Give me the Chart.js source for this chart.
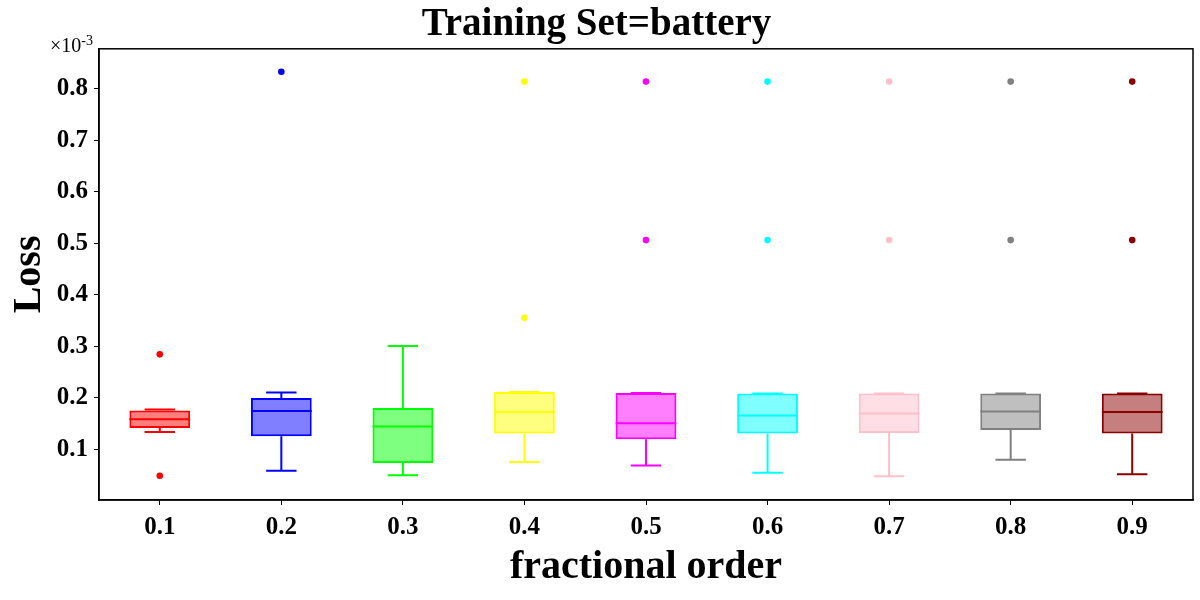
<!DOCTYPE html>
<html>
<head>
<meta charset="utf-8">
<script src="https://cdn.jsdelivr.net/npm/chart.js@4/dist/chart.umd.min.js"></script>
<style>
  body { margin: 0; background: #fff; }
  #wrap { width: 1200px; height: 600px; }
</style>
</head>
<body>
<div id="wrap"><canvas id="chart"></canvas></div>
<script>
// values in units of 1e-3
const categories = ["0.1", "0.2", "0.3", "0.4", "0.5", "0.6", "0.7", "0.8", "0.9"];
const q1 = [0.141, 0.125, 0.073, 0.130, 0.119, 0.130, 0.131, 0.137, 0.130];
const q3 = [0.175, 0.199, 0.180, 0.211, 0.209, 0.208, 0.208, 0.208, 0.208];
const medians = [0.158, 0.174, 0.144, 0.172, 0.150, 0.165, 0.169, 0.173, 0.172];
const whiskerLow = [0.133, 0.058, 0.049, 0.075, 0.068, 0.054, 0.047, 0.079, 0.051];
const whiskerHigh = [0.177, 0.210, 0.300, 0.211, 0.209, 0.208, 0.208, 0.208, 0.208];
const outlierCats = ["0.1", "0.1", "0.2", "0.4", "0.4", "0.5", "0.5", "0.6", "0.6", "0.7", "0.7", "0.8", "0.8", "0.9", "0.9"];
const outlierVals = [0.284, 0.048, 0.833, 0.355, 0.814, 0.506, 0.814, 0.506, 0.814, 0.506, 0.814, 0.506, 0.814, 0.506, 0.814];
const yTicks = [0.1, 0.2, 0.3, 0.4, 0.5, 0.6, 0.7, 0.8];

const colors = ["#ff0000", "#0000ff", "#00ff00", "#ffff00", "#ff00ff", "#00ffff", "#ffc0cb", "#808080", "#8b0000"];
const fills = ["rgba(255,0,0,0.5)", "rgba(0,0,255,0.5)", "rgba(0,255,0,0.5)", "rgba(255,255,0,0.5)",
  "rgba(255,0,255,0.5)", "rgba(0,255,255,0.5)", "rgba(255,192,203,0.5)", "rgba(128,128,128,0.5)", "rgba(139,0,0,0.5)"];

const serif = "'Liberation Serif', 'DejaVu Serif', serif";

// whiskers, caps and medians, placed with the chart's scales
const boxExtras = {
  id: "boxExtras",
  afterDatasetsDraw(chart) {
    const ctx = chart.ctx;
    const x = chart.scales.x;
    const y = chart.scales.y;
    const bars = chart.getDatasetMeta(0).data;
    ctx.save();
    ctx.lineWidth = 2;
    categories.forEach((c, i) => {
      const cx = x.getPixelForValue(i);
      const half = bars[i].width / 2;
      const cap = half / 2;
      ctx.strokeStyle = colors[i];
      ctx.beginPath();
      // median
      ctx.moveTo(cx - half, y.getPixelForValue(medians[i]));
      ctx.lineTo(cx + half, y.getPixelForValue(medians[i]));
      // whiskers
      ctx.moveTo(cx, y.getPixelForValue(q3[i]));
      ctx.lineTo(cx, y.getPixelForValue(whiskerHigh[i]));
      ctx.moveTo(cx, y.getPixelForValue(q1[i]));
      ctx.lineTo(cx, y.getPixelForValue(whiskerLow[i]));
      // caps
      ctx.moveTo(cx - cap, y.getPixelForValue(whiskerHigh[i]));
      ctx.lineTo(cx + cap, y.getPixelForValue(whiskerHigh[i]));
      ctx.moveTo(cx - cap, y.getPixelForValue(whiskerLow[i]));
      ctx.lineTo(cx + cap, y.getPixelForValue(whiskerLow[i]));
      ctx.stroke();
    });
    ctx.restore();
  },
  afterDraw(chart) {
    const ctx = chart.ctx;
    const a = chart.chartArea;
    ctx.save();
    ctx.strokeStyle = "#000";
    ctx.lineWidth = 1.5;
    ctx.strokeRect(a.left, a.top, a.right - a.left, a.bottom - a.top);
    // offset text for the y axis
    ctx.fillStyle = "#000";
    ctx.textBaseline = "alphabetic";
    ctx.font = "20px " + serif;
    ctx.fillText("\u00d710", a.left - 49, a.top + 3);
    const w = ctx.measureText("\u00d710").width;
    ctx.font = "14px " + serif;
    ctx.fillText("-3", a.left - 49 + w, a.top - 4);
    ctx.restore();
  }
};

new Chart(document.getElementById("chart"), {
  type: "bar",
  data: {
    labels: categories,
    datasets: [
      {
        data: q1.map((v, i) => [v, q3[i]]),
        backgroundColor: fills,
        borderColor: colors,
        borderWidth: 2,
        borderSkipped: false,
        categoryPercentage: 1,
        barPercentage: 0.5
      },
      {
        type: "scatter",
        data: outlierCats.map((c, i) => ({ x: c, y: outlierVals[i] })),
        pointBackgroundColor: outlierCats.map(c => colors[categories.indexOf(c)]),
        pointBorderWidth: 0,
        pointRadius: 3.3
      }
    ]
  },
  options: {
    responsive: true,
    maintainAspectRatio: false,
    animation: false,
    layout: { padding: { left: 0, right: 7, top: 0, bottom: 0 } },
    plugins: {
      legend: { display: false },
      tooltip: { enabled: false },
      title: {
        display: true,
        text: "Training Set=battery",
        color: "#000",
        font: { family: serif, size: 39, weight: "bold", lineHeight: 1.2 },
        padding: { top: 2, bottom: 0 }
      }
    },
    scales: {
      x: {
        offset: true,
        afterFit: (s) => { s.height = 100; },
        grid: { display: true, drawOnChartArea: false, drawTicks: true, tickLength: 5, color: "#000", offset: false },
        border: { display: true, color: "#000", width: 1.5 },
        ticks: { color: "#000", padding: 8, font: { family: serif, size: 25, weight: "bold" } },
        title: {
          display: true,
          text: "fractional order",
          color: "#000",
          font: { family: serif, size: 40, weight: "bold", lineHeight: 1.2 },
          padding: { top: 0, bottom: 8 }
        }
      },
      y: {
        min: 0.001,
        max: 0.8777,
        afterFit: (s) => { s.width = 99; },
        afterBuildTicks: (s) => { s.ticks = yTicks.map(v => ({ value: v })); },
        grid: { display: true, drawOnChartArea: false, drawTicks: true, tickLength: 5, color: "#000" },
        border: { display: true, color: "#000", width: 1.5 },
        ticks: {
          color: "#000",
          padding: 6,
          font: { family: serif, size: 25, weight: "bold" },
          callback: (v) => v.toFixed(1)
        },
        title: {
          display: true,
          text: "Loss",
          color: "#000",
          font: { family: serif, size: 40, weight: "bold", lineHeight: 1.2 },
          padding: { top: 6, bottom: 0 }
        }
      }
    }
  },
  plugins: [boxExtras]
});
</script>
</body>
</html>
